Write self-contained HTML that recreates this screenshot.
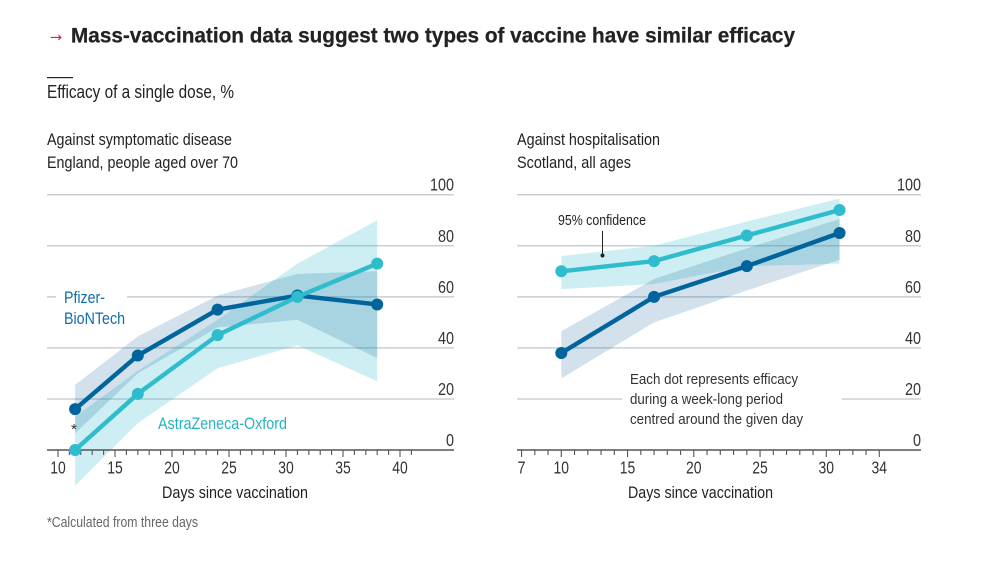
<!DOCTYPE html>
<html lang="en">
<head>
<meta charset="utf-8">
<title>Vaccine efficacy chart</title>
<style>
html,body{margin:0;padding:0;background:#fff;}
svg{display:block;font-family:"Liberation Sans",Arial,sans-serif;}
text{fill:#222;}
</style>
</head>
<body>
<svg id="chart" width="992" height="572" viewBox="0 0 992 572" xmlns="http://www.w3.org/2000/svg">
  <rect width="992" height="572" fill="#fff"/>
  <text x="47" y="41" font-size="22" stroke="#e3172f" stroke-width="0.3" style="fill:#e3172f" textLength="18" lengthAdjust="spacingAndGlyphs">→</text>
  <text x="71" y="42.5" font-size="21" font-weight="700" stroke="#222" stroke-width="0.25" textLength="724" lengthAdjust="spacingAndGlyphs">Mass-vaccination data suggest two types of vaccine have similar efficacy</text>
  <rect x="47" y="77" width="26" height="1.2" fill="#222"/>
  <text x="47" y="98" font-size="18" textLength="187" lengthAdjust="spacingAndGlyphs">Efficacy of a single dose, %</text>
  <text x="47" y="145" font-size="17" textLength="185" lengthAdjust="spacingAndGlyphs">Against symptomatic disease</text>
  <text x="47" y="168" font-size="17" textLength="191" lengthAdjust="spacingAndGlyphs">England, people aged over 70</text>
  <text x="517" y="145" font-size="17" textLength="143" lengthAdjust="spacingAndGlyphs">Against hospitalisation</text>
  <text x="517" y="168" font-size="17" textLength="114" lengthAdjust="spacingAndGlyphs">Scotland, all ages</text>
  <g id="left-panel"></g>
  <g id="right-panel"></g>
  <text x="47" y="527" font-size="14.5" style="fill:#666" textLength="151" lengthAdjust="spacingAndGlyphs">*Calculated from three days</text>
</svg>
<script>
// Shared axis values
const yTicks = [0, 20, 40, 60, 80, 100];

// Left panel: England, over 70s
const leftDays = [11.5, 17, 24, 31, 38];
const leftPfizer = [16, 37, 55, 60.5, 57];
const leftPfizerUpper = [25.5, 44.5, 60.5, 69, 70];
const leftPfizerLower = [6.5, 30, 48, 51, 36];
const leftAz = [0, 22, 45, 60, 73];
const leftAzUpper = [13, 31, 51, 73, 90];
const leftAzLower = [-14, 10.5, 32, 41, 27];
const leftXLabels = [10, 15, 20, 25, 30, 35, 40];

// Right panel: Scotland, all ages
const rightDays = [10, 17, 24, 31];
const rightPfizer = [38, 60, 72, 85];
const rightPfizerUpper = [46.5, 67, 79, 90.5];
const rightPfizerLower = [28, 50, 62.5, 74.5];
const rightAz = [70, 74, 84, 94];
const rightAzUpper = [76, 80, 89.5, 98.5];
const rightAzLower = [63, 65, 72, 73];
const rightXLabels = [7, 10, 15, 20, 25, 30, 34];

const NS = 'http://www.w3.org/2000/svg';
const PFIZER = '#00659d';
const AZ = '#2fbccc';

function yScale(v) { return 450 - v * 2.553; }
function leftX(d) { return 58 + (d - 10) * 11.4; }
function rightX(d) { return 561.3 + (d - 10) * 13.25; }

function make(parent, tag, attrs, content) {
  const el = document.createElementNS(NS, tag);
  Object.keys(attrs).forEach(function (k) { el.setAttribute(k, attrs[k]); });
  if (content !== undefined) el.textContent = content;
  parent.appendChild(el);
  return el;
}

function pts(days, vals, xf) {
  return days.map(function (d, i) { return xf(d) + ',' + yScale(vals[i]); }).join(' ');
}

function drawGrid(g, x1, x2) {
  yTicks.forEach(function (t) {
    if (t === 0) return;
    const line = make(g, 'line', { x1: x1, x2: x2, y1: yScale(t), y2: yScale(t), stroke: '#c8d0d6', 'stroke-width': 1.5 });
    
    
  });
}

function drawYLabels(g, x2) {
  yTicks.forEach(function (t) {
    const w = t === 100 ? 24 : (t === 0 ? 8 : 16);
    const label = make(g, 'text', { x: x2 - w, y: yScale(t) - 4, 'font-size': 17.5, textLength: w, lengthAdjust: 'spacingAndGlyphs', style: 'fill:#333' }, String(t));
    
    
  });
}

function drawBand(g, days, upper, lower, xf, fill, name) {
  const all = pts(days, upper, xf) + ' ' + pts(days.slice().reverse(), lower.slice().reverse(), xf);
  const band = make(g, 'polygon', { points: all, fill: fill });
  
  
}

function drawSeries(g, days, vals, xf, color, name) {
  const line = make(g, 'polyline', { points: pts(days, vals, xf), fill: 'none', stroke: color, 'stroke-width': 4.4, 'stroke-linejoin': 'round' });
  
  
  days.forEach(function (d, i) {
    const dot = make(g, 'circle', { cx: xf(d), cy: yScale(vals[i]), r: 6, fill: color });
    
    
  });
}

function drawXAxis(g, x1, x2, xf, first, last, labels) {
  const axis = make(g, 'line', { x1: x1, x2: x2, y1: 450, y2: 450, stroke: '#555', 'stroke-width': 1.4 });
  
  
  for (let d = first; d <= last; d++) {
    const major = labels.indexOf(d) >= 0;
    const tick = make(g, 'line', { x1: xf(d), x2: xf(d), y1: 450, y2: major ? 457 : 455, stroke: '#555', 'stroke-width': 1.1 });
    
    
  }
  labels.forEach(function (d) {
    const w = d < 10 ? 8 : 15.5;
    const label = make(g, 'text', { x: xf(d) - w / 2, y: 473.5, 'font-size': 17.5, textLength: w, lengthAdjust: 'spacingAndGlyphs', style: 'fill:#333' }, String(d));
    
    
  });
}

function addText(g, str, x, y, size, width, color, name) {
  const t = make(g, 'text', { x: x, y: y, 'font-size': size, textLength: width, lengthAdjust: 'spacingAndGlyphs', style: 'fill:' + color }, str);
  
  
  return t;
}

function maskRect(g, x, y, w, h, name) {
  const r = make(g, 'rect', { x: x, y: y, width: w, height: h, fill: '#fff' });
  
  
}

const bandPfizerFill = 'rgba(0,84,140,0.175)';
const bandAzFill = 'rgba(47,188,204,0.24)';

// Left panel
const L = document.getElementById('left-panel');
drawGrid(L, 47, 454);
maskRect(L, 56, 290, 71, 14, 'pfizer-label-gap');
drawBand(L, leftDays, leftAzUpper, leftAzLower, leftX, bandAzFill, 'left-astrazeneca-confidence-band');
drawBand(L, leftDays, leftPfizerUpper, leftPfizerLower, leftX, bandPfizerFill, 'left-pfizer-confidence-band');
drawXAxis(L, 47, 454, leftX, 10, 41, leftXLabels);
drawSeries(L, leftDays, leftPfizer, leftX, PFIZER, 'left-pfizer');
drawSeries(L, leftDays, leftAz, leftX, AZ, 'left-astrazeneca');
drawYLabels(L, 454);
addText(L, 'Pfizer-', 64, 303, 17, 41, '#0f6ea6', 'pfizer-label-line-1');
addText(L, 'BioNTech', 64, 324, 17, 61, '#0f6ea6', 'pfizer-label-line-2');
addText(L, 'AstraZeneca-Oxford', 158, 429, 17, 129, '#25b3c2', 'astrazeneca-label');
addText(L, '*', 71, 434, 15, 6, '#333', 'first-point-asterisk');
addText(L, 'Days since vaccination', 162, 498, 17, 146, '#222', 'left-x-axis-title');

// Right panel
const R = document.getElementById('right-panel');
drawGrid(R, 517, 921);
maskRect(R, 622, 390, 220, 20, 'annotation-gap');
drawBand(R, rightDays, rightAzUpper, rightAzLower, rightX, bandAzFill, 'right-astrazeneca-confidence-band');
drawBand(R, rightDays, rightPfizerUpper, rightPfizerLower, rightX, bandPfizerFill, 'right-pfizer-confidence-band');
drawXAxis(R, 517, 921, rightX, 7, 34, rightXLabels);
drawSeries(R, rightDays, rightPfizer, rightX, PFIZER, 'right-pfizer');
drawSeries(R, rightDays, rightAz, rightX, AZ, 'right-astrazeneca');
drawYLabels(R, 921);
addText(R, '95% confidence', 558, 225, 15, 88, '#222', 'confidence-label');
const pointer = make(R, 'line', { x1: 602.5, x2: 602.5, y1: 231, y2: 255, stroke: '#222', 'stroke-width': 1 });


const pointerDot = make(R, 'circle', { cx: 602.5, cy: 255.5, r: 2, fill: '#222' });


addText(R, 'Each dot represents efficacy', 630, 384, 15, 168, '#333', 'annotation-line-1');
addText(R, 'during a week-long period', 630, 404, 15, 153, '#333', 'annotation-line-2');
addText(R, 'centred around the given day', 630, 424, 15, 173, '#333', 'annotation-line-3');
addText(R, 'Days since vaccination', 628, 498, 17, 145, '#222', 'right-x-axis-title');
</script>
</body>
</html>
